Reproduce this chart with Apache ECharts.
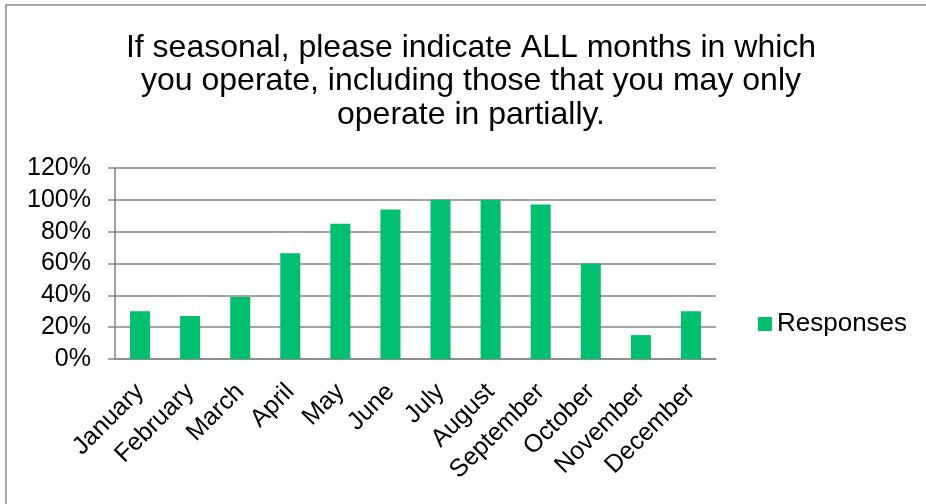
<!DOCTYPE html>
<html>
<head>
<meta charset="utf-8">
<script src="https://cdn.jsdelivr.net/npm/echarts@6/dist/echarts.min.js"></script>
<style>
  html, body { margin: 0; padding: 0; background: #fff; }
  #chart { width: 926px; height: 504px; }
</style>
</head>
<body>
<div id="chart"></div>
<script>
var months = ['January', 'February', 'March', 'April', 'May', 'June', 'July', 'August', 'September', 'October', 'November', 'December'];
var responses = [30, 27, 39, 66.5, 85, 94, 100, 100, 97, 60, 15, 30];
var titleText = 'If seasonal, please indicate ALL months in which\nyou operate, including those that you may only\noperate in partially.';

var font = 'Arial, "Liberation Sans", sans-serif';
var chart = echarts.init(document.getElementById('chart'));
chart.setOption({
  animation: false,
  title: {
    text: titleText,
    left: 466,
    top: 26,
    textAlign: 'center',
    textStyle: { fontFamily: font, fontSize: 32, fontWeight: 'normal', color: '#000', lineHeight: 33.5 }
  },
  graphic: [{
    type: 'rect',
    shape: { x: 6, y: 5, width: 940, height: 520 },
    style: { fill: 'none', stroke: '#8c8c8c', lineWidth: 1.5 },
    z: -1
  }],
  legend: {
    data: ['Responses'],
    left: 753,
    top: 306,
    icon: 'rect',
    itemWidth: 14,
    itemHeight: 14,
    itemGap: 7,
    textStyle: { fontFamily: font, fontSize: 26, color: '#000' }
  },
  grid: { left: 115, right: 210, top: 168, bottom: 145 },
  xAxis: {
    type: 'category',
    data: months,
    axisLine: { lineStyle: { color: '#868686', width: 1.5 } },
    axisTick: { alignWithLabel: false, length: 7, lineStyle: { color: '#868686', width: 1.5 } },
    axisLabel: { rotate: 45, fontFamily: font, fontSize: 25, color: '#000', margin: 29, interval: 0 }
  },
  yAxis: {
    type: 'value',
    min: 0,
    max: 120,
    interval: 20,
    axisLine: { show: true, lineStyle: { color: '#868686', width: 1.5 } },
    axisTick: { show: true, length: 7, lineStyle: { color: '#868686', width: 1.5 } },
    splitLine: { lineStyle: { color: '#868686', width: 1.5 } },
    axisLabel: { formatter: '{value}%', fontFamily: font, fontSize: 25, color: '#000', margin: 24 }
  },
  series: [{
    name: 'Responses',
    type: 'bar',
    data: responses,
    barWidth: '40%',
    itemStyle: { color: '#00BF6F' }
  }]
});
</script>
</body>
</html>
